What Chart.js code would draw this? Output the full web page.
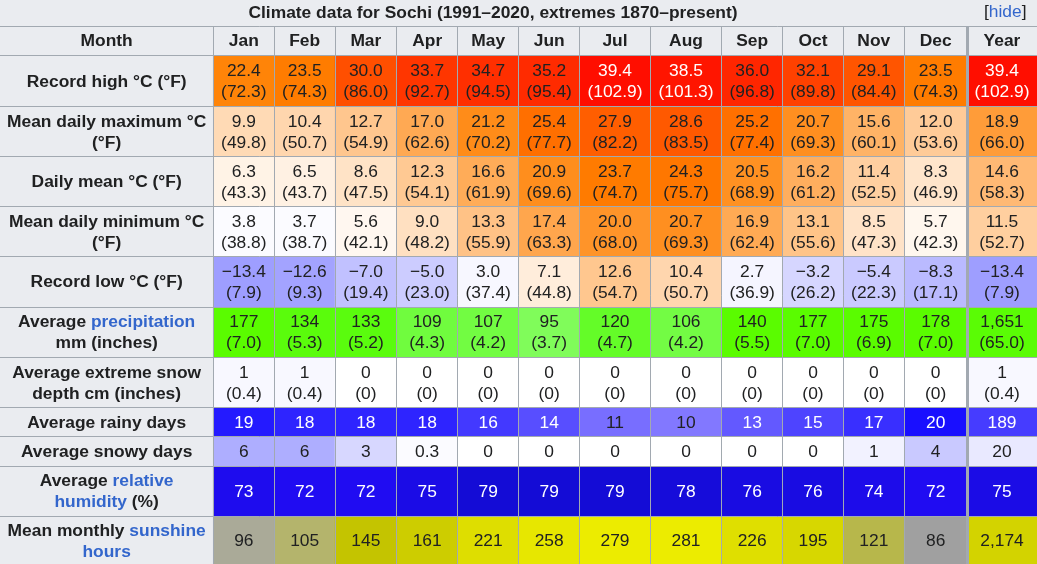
<!DOCTYPE html>
<html>
<head>
<meta charset="utf-8">
<script src="https://cdn.jsdelivr.net/npm/chart.js@4.4.1/dist/chart.umd.min.js"></script>
<style>
html,body{margin:0;padding:0;background:#eaecf0;overflow:hidden}
canvas{display:block}
</style>
</head>
<body>
<canvas id="c" width="1037" height="564" style="width:1037px;height:564px"></canvas>
<script>
// ---------------- DATA ----------------
const titleText = "Climate data for Sochi (1991–2020, extremes 1870–present)";
const hideText = ["[", "hide", "]"];
const headerLabel = "Month";
const months = ["Jan","Feb","Mar","Apr","May","Jun","Jul","Aug","Sep","Oct","Nov","Dec"];
const yearLabel = "Year";

const rowLabels = [
  "Record high °C (°F)",
  "Mean daily maximum °C\n(°F)",
  "Daily mean °C (°F)",
  "Mean daily minimum °C\n(°F)",
  "Record low °C (°F)",
  "Average [precipitation]\nmm (inches)",
  "Average extreme snow\ndepth cm (inches)",
  "Average rainy days",
  "Average snowy days",
  "Average [relative]\n[humidity] (%)",
  "Mean monthly [sunshine]\n[hours]"
];

// last value in each array = Year column
const recordHighC = [22.4,23.5,30.0,33.7,34.7,35.2,39.4,38.5,36.0,32.1,29.1,23.5,39.4];
const recordHighF = [72.3,74.3,86.0,92.7,94.5,95.4,102.9,101.3,96.8,89.8,84.4,74.3,102.9];
const meanMaxC    = [9.9,10.4,12.7,17.0,21.2,25.4,27.9,28.6,25.2,20.7,15.6,12.0,18.9];
const meanMaxF    = [49.8,50.7,54.9,62.6,70.2,77.7,82.2,83.5,77.4,69.3,60.1,53.6,66.0];
const dailyMeanC  = [6.3,6.5,8.6,12.3,16.6,20.9,23.7,24.3,20.5,16.2,11.4,8.3,14.6];
const dailyMeanF  = [43.3,43.7,47.5,54.1,61.9,69.6,74.7,75.7,68.9,61.2,52.5,46.9,58.3];
const meanMinC    = [3.8,3.7,5.6,9.0,13.3,17.4,20.0,20.7,16.9,13.1,8.5,5.7,11.5];
const meanMinF    = [38.8,38.7,42.1,48.2,55.9,63.3,68.0,69.3,62.4,55.6,47.3,42.3,52.7];
const recordLowC  = [-13.4,-12.6,-7.0,-5.0,3.0,7.1,12.6,10.4,2.7,-3.2,-5.4,-8.3,-13.4];
const recordLowF  = [7.9,9.3,19.4,23.0,37.4,44.8,54.7,50.7,36.9,26.2,22.3,17.1,7.9];
const precipMm    = [177,134,133,109,107,95,120,106,140,177,175,178,1651];
const precipIn    = [7.0,5.3,5.2,4.3,4.2,3.7,4.7,4.2,5.5,7.0,6.9,7.0,65.0];
const snowDepthCm = [1,1,0,0,0,0,0,0,0,0,0,0,1];
const snowDepthIn = [0.4,0.4,0,0,0,0,0,0,0,0,0,0,0.4];
const rainyDays   = [19,18,18,18,16,14,11,10,13,15,17,20,189];
const snowyDays   = [6,6,3,0.3,0,0,0,0,0,0,1,4,20];
const humidity    = [73,72,72,75,79,79,79,78,76,76,74,72,75];
const sunshine    = [96,105,145,161,221,258,279,281,226,195,121,86,2174];

// ---------------- LAYOUT / STYLE ----------------
const colEdges = [0,213.3,274.3,335,396.7,457.7,518.7,579.7,650.3,721.7,782.7,843.3,904.3,967,1037];
const rowEdges = [26.3,55,106.7,156.7,206.5,256.3,307,357.3,407.3,436.5,466.2,516.2,565];
const yearEdge = 967;
const viewBottom = 564;
const FONT = "'Liberation Sans', Arial, sans-serif";
const FS = 17.4;
const LH = 21;
const TEXT_DY = 1;
const DARK = '#202122', LINK = '#3366cc', HEAD_BG = '#eaecf0', GRID = '#a2a9b1', WHITE = '#ffffff';

function cl(v){ return Math.max(0, Math.min(255, Math.round(v))); }
function rgb(r,g,b){ return 'rgb(' + cl(r) + ',' + cl(g) + ',' + cl(b) + ')'; }
function ramp(v,a,b,c,d){
  if (v <= a) return 0;
  if (v < b) return 255*(v-a)/(b-a);
  if (v <= c) return 255;
  if (v < d) return 255*(d-v)/(d-c);
  return 0;
}
function tempColor(t){
  return rgb(ramp(t,-42.75,4.47,41.5,60), ramp(t,-42.75,4.47,4.5,41.5), ramp(t,-90,-42.78,4.5,23));
}
function precipColor(mm){ return rgb(Math.max(90, 234 - 1.12*mm), 252, 255*(140-mm)/127.5); }
function rainyColor(d){ const r = 235 - 10.5*d; return rgb(r, r - 10, 255); }
function snowyColor(d){ const v = 255 - 13.5*d; return rgb(v, v, 255); }
function depthColor(cm){ const v = 255 - 7*cm; return rgb(v, v, 255); }
function humidColor(h){ return rgb(32 - (h-72)*1.7, 12, 242 - (h-72)*4); }
const sunStops = [[86,[160,160,160]],[96,[170,170,152]],[105,[180,180,108]],[121,[183,183,75]],[145,[196,196,0]],[161,[205,205,0]],[195,[215,215,0]],[221,[222,222,0]],[258,[231,231,0]],[281,[236,236,0]]];
function sunColor(h){
  if (h <= sunStops[0][0]) return rgb.apply(null, sunStops[0][1]);
  for (let i = 1; i < sunStops.length; i++) {
    if (h <= sunStops[i][0]) {
      const [a, ca] = sunStops[i-1], [b, cb] = sunStops[i];
      const f = (h - a) / (b - a);
      return rgb(ca[0]+(cb[0]-ca[0])*f, ca[1]+(cb[1]-ca[1])*f, ca[2]+(cb[2]-ca[2])*f);
    }
  }
  return rgb.apply(null, sunStops[sunStops.length-1][1]);
}

// ---------------- FORMATTING ----------------
function fmt1(v){ return (v < 0 ? '\u2212' : '') + Math.abs(v).toFixed(1); }
function fmtIn(v){ return v === 0 ? '0' : v.toFixed(1); }
function fmtInt(v){ return v.toLocaleString('en-US'); }
function plain(t){ return [{t: t, link: false}]; }
function parseLabel(s){
  return s.split('\n').map(line => {
    const segs = [];
    line.split(/(\[[^\]]+\])/).forEach(p => {
      if (!p) return;
      if (p[0] === '[') segs.push({t: p.slice(1, -1), link: true});
      else segs.push({t: p, link: false});
    });
    return segs;
  });
}

const nCols = months.length + 1;
const isYear = j => j === nCols - 1;

function tempCells(cArr, fArr){
  return cArr.map((c, j) => ({
    lines: [plain(fmt1(c)), plain('(' + fmt1(fArr[j]) + ')')],
    bg: tempColor(c), color: c >= 38 ? WHITE : DARK, bold: false
  }));
}
const rowsCells = [
  tempCells(recordHighC, recordHighF),
  tempCells(meanMaxC, meanMaxF),
  tempCells(dailyMeanC, dailyMeanF),
  tempCells(meanMinC, meanMinF),
  tempCells(recordLowC, recordLowF),
  precipMm.map((v, j) => ({lines: [plain(fmtInt(v)), plain('(' + fmtIn(precipIn[j]) + ')')],
    bg: precipColor(isYear(j) ? v/12 : v), color: DARK, bold: false})),
  snowDepthCm.map((v, j) => ({lines: [plain(String(v)), plain('(' + fmtIn(snowDepthIn[j]) + ')')],
    bg: depthColor(v), color: DARK, bold: false})),
  rainyDays.map((v, j) => { const m = isYear(j) ? v/12 : v;
    return {lines: [plain(String(v))], bg: rainyColor(m), color: m >= 12 ? WHITE : DARK, bold: false}; }),
  snowyDays.map((v, j) => ({lines: [plain(String(v))], bg: snowyColor(isYear(j) ? v/12 : v), color: DARK, bold: false})),
  humidity.map(v => ({lines: [plain(String(v))], bg: humidColor(v), color: WHITE, bold: false})),
  sunshine.map((v, j) => ({lines: [plain(fmtInt(v))], bg: sunColor(isYear(j) ? v/12 : v), color: DARK, bold: false}))
];

// table rows = header + data rows; first column = label
const tableRows = [];
tableRows.push([headerLabel].concat(months, [yearLabel]).map(t => ({lines: [plain(t)], bg: HEAD_BG, color: DARK, bold: true})));
rowLabels.forEach((lab, i) => {
  tableRows.push([{lines: parseLabel(lab), bg: HEAD_BG, color: DARK, bold: true}].concat(rowsCells[i]));
});

const datasets = tableRows.map((cells, r) => ({
  label: 'row' + r,
  cells: cells,
  data: cells.map((c, j) => ({x: [colEdges[j], colEdges[j+1]], y: (rowEdges[r] + rowEdges[r+1]) / 2})),
  backgroundColor: cells.map(c => c.bg),
  borderWidth: 0,
  grouped: false,
  barThickness: (ctx) => {
    const s = ctx.chart.scales.y;
    return Math.abs(s.getPixelForValue(rowEdges[r+1]) - s.getPixelForValue(rowEdges[r]));
  }
}));

function fontStr(bold){ return (bold ? 'bold ' : '') + FS + 'px ' + FONT; }
function drawLines(ctx, lines, cx, cy, bold, color){
  ctx.font = fontStr(bold);
  ctx.textBaseline = 'middle';
  ctx.textAlign = 'left';
  const y0 = cy - (lines.length - 1) * LH / 2 + TEXT_DY;
  lines.forEach((segs, li) => {
    const widths = segs.map(s => ctx.measureText(s.t).width);
    const total = widths.reduce((a, b) => a + b, 0);
    let x = cx - total / 2;
    segs.forEach((s, si) => {
      ctx.fillStyle = s.link ? LINK : color;
      ctx.fillText(s.t, x, y0 + li * LH);
      x += widths[si];
    });
  });
}

const bgPlugin = {
  id: 'bg',
  beforeDraw(chart){
    const ctx = chart.ctx;
    ctx.save();
    ctx.fillStyle = HEAD_BG;
    ctx.fillRect(0, 0, chart.width, chart.height);
    ctx.restore();
  }
};

const textPlugin = {
  id: 'cellText',
  afterDraw(chart){
    const ctx = chart.ctx;
    ctx.save();
    chart.data.datasets.forEach((ds, di) => {
      const meta = chart.getDatasetMeta(di);
      meta.data.forEach((el, j) => {
        const p = el.getProps(['x', 'y', 'base'], true);
        const cell = ds.cells[j];
        drawLines(ctx, cell.lines, (p.x + p.base) / 2, p.y, cell.bold, cell.color);
      });
    });
    // caption
    const top = chart.chartArea.top;
    drawLines(ctx, [plain(titleText)], 493, top / 2 - 1, true, DARK);
    ctx.font = fontStr(false);
    ctx.textBaseline = 'middle';
    ctx.textAlign = 'right';
    let x = 1026.5;
    for (let i = hideText.length - 1; i >= 0; i--) {
      ctx.fillStyle = i === 1 ? LINK : DARK;
      ctx.fillText(hideText[i], x, top / 2 - 1);
      x -= ctx.measureText(hideText[i]).width;
    }
    ctx.restore();
  }
};

new Chart(document.getElementById('c'), {
  type: 'bar',
  data: { datasets: datasets },
  options: {
    indexAxis: 'y',
    responsive: false,
    devicePixelRatio: 1,
    animation: false,
    events: [],
    layout: { padding: { top: rowEdges[0], left: 0, right: 0, bottom: 0 } },
    plugins: { legend: { display: false }, title: { display: false }, tooltip: { enabled: false } },
    scales: {
      x: {
        type: 'linear',
        offset: false,
        min: colEdges[0],
        max: colEdges[colEdges.length - 1],
        afterBuildTicks: (scale) => { scale.ticks = colEdges.slice(1, -1).map(v => ({value: v})); },
        ticks: { display: false },
        border: { display: false },
        grid: {
          z: 1,
          offset: false,
          color: GRID,
          drawTicks: false,
          lineWidth: (ctx) => (ctx.tick && ctx.tick.value === yearEdge) ? 3 : 1
        }
      },
      y: {
        type: 'linear',
        reverse: true,
        offset: false,
        min: rowEdges[0],
        max: viewBottom,
        afterBuildTicks: (scale) => { scale.ticks = rowEdges.filter(v => v <= viewBottom).map(v => ({value: v})); },
        ticks: { display: false },
        border: { display: false },
        grid: { z: 1, offset: false, color: GRID, drawTicks: false, lineWidth: 1 }
      }
    }
  },
  plugins: [bgPlugin, textPlugin]
});
</script>
</body>
</html>
